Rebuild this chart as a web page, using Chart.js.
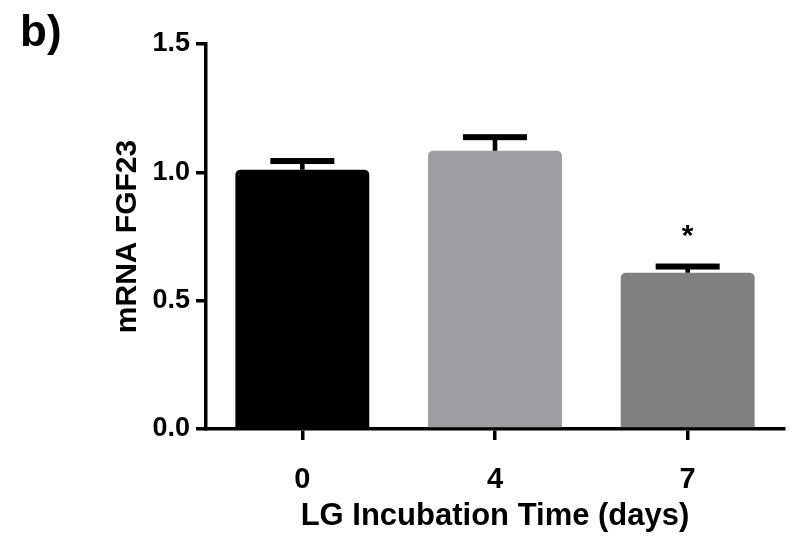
<!DOCTYPE html>
<html>
<head>
<meta charset="utf-8">
<script src="https://cdn.jsdelivr.net/npm/chart.js@4/dist/chart.umd.min.js"></script>
<style>
  html, body { margin: 0; padding: 0; background: #fff; }
  #wrap { width: 790px; height: 551px; }
</style>
</head>
<body>
<div id="wrap"><canvas id="myChart"></canvas></div>
<script>
var labels = ['0', '4', '7'];
var values = [1.01, 1.084, 0.609];
var errors = [0.034, 0.053, 0.024];
var marks = ['', '', '*'];
var colors = ['#000000', '#9e9ea2', '#808080'];
var yTicks = [0, 0.5, 1.0, 1.5];

var fontName = "'Liberation Sans', Arial, sans-serif";

// error bars, significance star and panel letter
var extras = {
	id: 'extras',
	afterDatasetsDraw: function(chart) {
		var ctx = chart.ctx;
		var meta = chart.getDatasetMeta(0);
		var y = chart.scales.y;
		ctx.save();
		ctx.fillStyle = '#000';
		meta.data.forEach(function(bar, i) {
			var top = y.getPixelForValue(values[i] + errors[i]);
			var base = bar.y;
			ctx.fillRect(bar.x - 2.3, top, 4.6, base - top);
			ctx.fillRect(bar.x - 32, top - 3, 64, 6);
			if (marks[i]) {
				ctx.font = 'bold 30px ' + fontName;
				ctx.textAlign = 'center';
				ctx.textBaseline = 'middle';
				ctx.fillText(marks[i], bar.x, top - 30);
			}
		});
		ctx.font = 'bold 44px ' + fontName;
		ctx.textAlign = 'left';
		ctx.textBaseline = 'alphabetic';
		ctx.fillText('b)', 20, 46);
		ctx.restore();
	}
};

var chart = new Chart(document.getElementById('myChart').getContext('2d'), {
	type: 'bar',
	data: {
		labels: labels,
		datasets: [{
			data: values,
			backgroundColor: colors,
			borderRadius: 5,
			borderSkipped: 'bottom',
			barPercentage: 0.695,
			categoryPercentage: 1.0
		}]
	},
	options: {
		responsive: true,
		maintainAspectRatio: false,
		animation: false,
		layout: { padding: { top: 44, right: 6, bottom: 0, left: 0 } },
		plugins: {
			legend: { display: false },
			tooltip: { enabled: false }
		},
		scales: {
			x: {
				grid: { drawOnChartArea: false, offset: false, color: '#000', lineWidth: 3.5, tickLength: 11 },
				border: { display: true, color: '#000', width: 3.5 },
				ticks: { color: '#000', padding: 23, font: { family: fontName, size: 29, weight: 'bold' } },
				title: {
					display: true,
					text: 'LG Incubation Time (days)',
					color: '#000',
					font: { family: fontName, size: 31, weight: 'bold' },
					padding: { top: 0, bottom: 16 }
				},
				afterFit: function(scale) { scale.height = 122; }
			},
			y: {
				min: 0,
				max: 1.5,
				afterBuildTicks: function(scale) {
					scale.ticks = yTicks.map(function(v) { return { value: v }; });
				},
				grid: { drawOnChartArea: false, color: '#000', lineWidth: 3.5, tickLength: 10 },
				border: { display: true, color: '#000', width: 3.5 },
				ticks: {
					color: '#000',
					padding: 6,
					font: { family: fontName, size: 27, weight: 'bold' },
					callback: function(v) { return Number(v).toFixed(1); }
				},
				title: {
					display: true,
					text: 'mRNA FGF23',
					color: '#000',
					font: { family: fontName, size: 30, weight: 'bold' },
					padding: { top: 110, bottom: 0 }
				},
				afterFit: function(scale) { scale.width = 206; }
			}
		}
	},
	plugins: [extras]
});
</script>
</body>
</html>
